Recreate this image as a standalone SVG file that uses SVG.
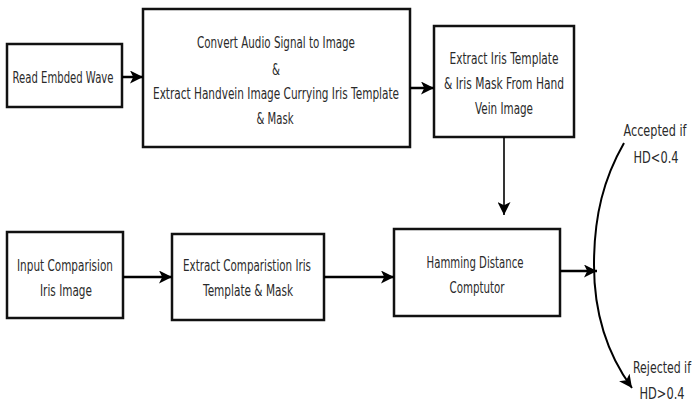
<svg xmlns="http://www.w3.org/2000/svg" width="695" height="405" viewBox="0 0 695 405">
<defs>
<style>
.box{fill:#fff;stroke:#111;stroke-width:2.5}
.t{font-family:"DejaVu Sans","Liberation Sans",sans-serif;font-size:16px;fill:#2a2a2a;text-anchor:middle;dominant-baseline:central}
.c{fill:none;stroke:#000;stroke-width:2.5}
.thin{fill:none;stroke:#000;stroke-width:1.6}
.curve{fill:none;stroke:#000;stroke-width:2}
</style>
<marker id="ah" viewBox="0 0 12 12" refX="12" refY="6" markerWidth="13" markerHeight="13" markerUnits="userSpaceOnUse" orient="auto">
<path d="M0,0 L12,6 L0,12 L3,6 z" fill="#000"/>
</marker>
</defs>
<rect width="695" height="405" fill="#fff"/>
<g id="n1"><rect class="box" x="7" y="44" width="115" height="63"/><text class="t" transform="translate(63,77) scale(0.72,1)" textLength="140.3" lengthAdjust="spacingAndGlyphs">Read Embded Wave</text></g>
<g id="n2"><rect class="box" x="143" y="9" width="267" height="138"/>
<text class="t" transform="translate(276,42) scale(0.72,1)" textLength="219.4" lengthAdjust="spacingAndGlyphs">Convert Audio Signal to Image</text>
<text class="t" transform="translate(276,69) scale(0.72,1)" textLength="11.1" lengthAdjust="spacingAndGlyphs">&amp;</text>
<text class="t" transform="translate(276,93) scale(0.72,1)" textLength="341.7" lengthAdjust="spacingAndGlyphs">Extract Handvein Image Currying Iris Template</text>
<text class="t" transform="translate(275,118) scale(0.72,1)" textLength="51.4" lengthAdjust="spacingAndGlyphs">&amp; Mask</text></g>
<g id="n3"><rect class="box" x="434" y="26" width="140" height="111"/>
<text class="t" transform="translate(504,58) scale(0.72,1)" textLength="151.4" lengthAdjust="spacingAndGlyphs">Extract Iris Template</text>
<text class="t" transform="translate(504,83) scale(0.72,1)" textLength="166.7" lengthAdjust="spacingAndGlyphs">&amp; Iris Mask From Hand</text>
<text class="t" transform="translate(504,108) scale(0.72,1)" textLength="80.6" lengthAdjust="spacingAndGlyphs">Vein Image</text></g>
<g id="n4"><rect class="box" x="7" y="232" width="116" height="86"/>
<text class="t" transform="translate(65,265) scale(0.72,1)" textLength="133.3" lengthAdjust="spacingAndGlyphs">Input Comparision</text>
<text class="t" transform="translate(66,290) scale(0.72,1)" textLength="72.2" lengthAdjust="spacingAndGlyphs">Iris Image</text></g>
<g id="n5"><rect class="box" x="172" y="234" width="152" height="86"/>
<text class="t" transform="translate(247,265) scale(0.72,1)" textLength="177.8" lengthAdjust="spacingAndGlyphs">Extract Comparistion Iris</text>
<text class="t" transform="translate(248,290) scale(0.72,1)" textLength="125" lengthAdjust="spacingAndGlyphs">Template &amp; Mask</text></g>
<g id="n6"><rect class="box" x="394" y="229" width="166" height="87"/>
<text class="t" transform="translate(475,262) scale(0.72,1)" textLength="134.7" lengthAdjust="spacingAndGlyphs">Hamming Distance</text>
<text class="t" transform="translate(477,287) scale(0.72,1)" textLength="76.4" lengthAdjust="spacingAndGlyphs">Comptutor</text></g>
<g id="labels">
<text class="t" transform="translate(655,130) scale(0.72,1)" textLength="87.5" lengthAdjust="spacingAndGlyphs">Accepted if</text>
<text class="t" transform="translate(656,157) scale(0.72,1)" textLength="62.5" lengthAdjust="spacingAndGlyphs">HD&lt;0.4</text>
<text class="t" transform="translate(662,367) scale(0.72,1)" textLength="80.6" lengthAdjust="spacingAndGlyphs">Rejected if</text>
<text class="t" transform="translate(662,393) scale(0.72,1)" textLength="62.5" lengthAdjust="spacingAndGlyphs">HD&gt;0.4</text>
</g>
<g id="connectors">
<line class="c" x1="122" y1="77" x2="143" y2="77" marker-end="url(#ah)"/>
<line class="c" x1="410" y1="88" x2="434" y2="88" marker-end="url(#ah)"/>
<line class="thin" x1="504" y1="137" x2="504" y2="215" marker-end="url(#ah)"/>
<line class="c" x1="123" y1="277" x2="172" y2="277" marker-end="url(#ah)"/>
<line class="c" x1="324" y1="277" x2="394" y2="277" marker-end="url(#ah)"/>
<line class="c" x1="560" y1="271" x2="597" y2="271" marker-end="url(#ah)"/>
<path class="curve" d="M624,143 C604,178 594,215 594,265 C594,320 610,358 632,388" marker-end="url(#ah)"/>
</g>
</svg>
